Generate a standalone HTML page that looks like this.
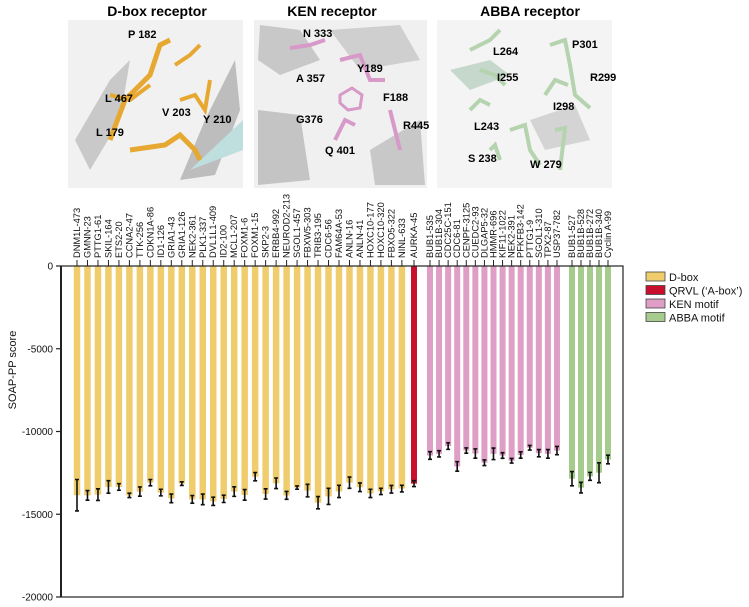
<!DOCTYPE html>
<html><head><meta charset="utf-8"><style>
body{margin:0;background:#fff;font-family:"Liberation Sans",sans-serif;}
svg text{font-family:"Liberation Sans",sans-serif;}
</style></head><body>
<svg id="fig" width="749" height="602" viewBox="0 0 749 602" xmlns="http://www.w3.org/2000/svg">
<!-- structure panels -->
<g>
<text x="157" y="16" text-anchor="middle" font-size="14" font-weight="bold">D-box receptor</text>
<rect x="68" y="20" width="175" height="168" fill="#f1f1f1"/>
<polygon points="75,140 110,80 130,60 120,120 90,170" fill="#c9c9c9"/>
<polygon points="180,180 205,120 235,60 240,110 215,175" fill="#bdbdbd"/>
<polygon points="190,170 243,120 243,150" fill="#bfdede"/>
<polyline points="110,140 125,100 150,75 160,45 170,40" fill="none" stroke="#e6a830" stroke-width="5"/>
<polyline points="110,95 130,100 150,85" fill="none" stroke="#e6a830" stroke-width="4"/>
<polyline points="175,65 190,55 200,45" fill="none" stroke="#e6a830" stroke-width="4"/>
<polyline points="180,100 195,95 205,110 210,80" fill="none" stroke="#e6a830" stroke-width="4"/>
<polyline points="130,150 165,145 180,135 195,150 200,160" fill="none" stroke="#e6a830" stroke-width="5"/>
<text x="128" y="38" font-size="11" font-weight="bold">P 182</text>
<text x="105" y="102" font-size="11" font-weight="bold">L 467</text>
<text x="96" y="136" font-size="11" font-weight="bold">L 179</text>
<text x="162" y="116" font-size="11" font-weight="bold">V 203</text>
<text x="203" y="123" font-size="11" font-weight="bold">Y 210</text>
</g>
<g>
<text x="332" y="16" text-anchor="middle" font-size="14" font-weight="bold">KEN receptor</text>
<rect x="254" y="20" width="173" height="168" fill="#f0f0f0"/>
<polygon points="260,25 300,30 320,60 280,75 258,60" fill="#c8c8c8"/>
<polygon points="330,30 400,25 420,60 360,70" fill="#cfcfcf"/>
<polygon points="258,110 300,115 310,180 258,185" fill="#c4c4c4"/>
<polygon points="370,150 420,120 425,185 375,185" fill="#c8c8c8"/>
<polyline points="290,48 310,45 325,40" fill="none" stroke="#d79ac8" stroke-width="4"/>
<polyline points="340,60 360,55 370,80 385,80" fill="none" stroke="#d79ac8" stroke-width="4"/>
<polygon points="340,95 352,88 362,95 360,108 348,110 340,103" fill="none" stroke="#d79ac8" stroke-width="3"/>
<polyline points="335,140 345,120 355,125" fill="none" stroke="#d79ac8" stroke-width="4"/>
<polyline points="390,110 395,130 400,150" fill="none" stroke="#d79ac8" stroke-width="4"/>
<text x="303" y="37" font-size="11" font-weight="bold">N 333</text>
<text x="357" y="72" font-size="11" font-weight="bold">Y189</text>
<text x="296" y="82" font-size="11" font-weight="bold">A 357</text>
<text x="383" y="101" font-size="11" font-weight="bold">F188</text>
<text x="296" y="123" font-size="11" font-weight="bold">G376</text>
<text x="325" y="154" font-size="11" font-weight="bold">Q 401</text>
<text x="403" y="129" font-size="11" font-weight="bold">R445</text>
</g>
<g>
<text x="530" y="16" text-anchor="middle" font-size="14" font-weight="bold">ABBA receptor</text>
<rect x="437" y="20" width="175" height="168" fill="#f4f4f4"/>
<polygon points="450,70 490,60 510,75 470,90" fill="#c6d8cc"/>
<polygon points="530,120 575,105 590,140 545,150" fill="#d4d4d4"/>
<polyline points="470,50 490,40 500,30" fill="none" stroke="#b5d3ae" stroke-width="4"/>
<polyline points="480,70 495,75 505,85" fill="none" stroke="#b5d3ae" stroke-width="4"/>
<polyline points="470,110 480,100 490,105" fill="none" stroke="#b5d3ae" stroke-width="4"/>
<polyline points="550,45 565,40 570,65 575,95 590,108" fill="none" stroke="#b5d3ae" stroke-width="4"/>
<polyline points="545,95 555,80 568,85" fill="none" stroke="#b5d3ae" stroke-width="4"/>
<polyline points="510,130 525,125 530,150 540,165" fill="none" stroke="#b5d3ae" stroke-width="4"/>
<polyline points="555,130 565,128 560,170" fill="none" stroke="#b5d3ae" stroke-width="4"/>
<polyline points="490,150 495,145 500,160" fill="none" stroke="#b5d3ae" stroke-width="4"/>
<text x="493" y="55" font-size="11" font-weight="bold">L264</text>
<text x="572" y="48" font-size="11" font-weight="bold">P301</text>
<text x="497" y="81" font-size="11" font-weight="bold">I255</text>
<text x="590" y="81" font-size="11" font-weight="bold">R299</text>
<text x="553" y="110" font-size="11" font-weight="bold">I298</text>
<text x="474" y="130" font-size="11" font-weight="bold">L243</text>
<text x="468" y="162" font-size="11" font-weight="bold">S 238</text>
<text x="530" y="168" font-size="11" font-weight="bold">W 279</text>
</g>
<g id="chart"></g>
</svg>
<script>
const dboxLabels=["DNM1L-473","GMNN-23","PTTG1-61","SKIL-164","ETS2-20","CCNA2-47","TTK-256","CDKN1A-86","ID1-126","GRIA1-43","GRIA1-126","NEK2-361","PLK1-337","DVL1L1-409","ID2-100","MCL1-207","FOXM1-6","FOXM1-15","SKP2-3","ERBB4-992","NEUROD2-213","SGOL1-457","FBXW5-303","TRIB3-195","CDC6-56","FAM64A-53","ANLN-16","ANLN-41","HOXC10-177","HOXC10-320","FBXO5-322","NINL-633"];
const dboxValues=[-13850,-13860,-13815,-13350,-13350,-13860,-13630,-13090,-13690,-14040,-13150,-14100,-14100,-14220,-14070,-13630,-13830,-12730,-13770,-13130,-13860,-13390,-13570,-14300,-13920,-13620,-13090,-13370,-13740,-13620,-13490,-13450];
const dboxErrors=[950,290,350,380,200,130,280,190,200,260,110,230,320,250,220,290,320,250,310,320,240,100,380,370,490,370,340,260,250,190,230,200];
const qrvlLabels=["AURKA-45"];
const qrvlValues=[-13150];
const qrvlErrors=[180];
const kenLabels=["BUB1-535","BUB1B-304","CDC25C-151","CDC6-81","CENPF-3125","CUEDC2-93","DLGAP5-32","HMMR-696","KIF11-1022","NEK2-391","PFKFB3-142","PTTG1-9","SGOL1-310","TPX2-87","USP37-782"];
const kenValues=[-11450,-11350,-10880,-12110,-11150,-11330,-11890,-11350,-11450,-11770,-11420,-10980,-11310,-11350,-11150];
const kenErrors=[230,190,200,290,160,280,170,350,170,140,190,140,220,260,250];
const abbaLabels=["BUB1-527","BUB1B-528","BUB1B-272","BUB1B-340","Cyclin A-99"];
const abbaValues=[-12850,-13390,-12710,-12490,-11690];
const abbaErrors=[430,320,240,600,260];
const yTicks=[0,-5000,-10000,-15000,-20000];

const NS="http://www.w3.org/2000/svg";
const g=document.getElementById('chart');
const X0=61,X1=623,Y0=266,Y1=597;
function y(v){return Y0+(0-v)/20000*(Y1-Y0);}
function mk(t,a){const e=document.createElementNS(NS,t);for(const k in a)e.setAttribute(k,a[k]);g.appendChild(e);return e;}
const groups=[
 {labels:dboxLabels,values:dboxValues,errors:dboxErrors,start:77,step:10.48,color:"#f0cd6c",w:6.5,name:"dbox"},
 {labels:qrvlLabels,values:qrvlValues,errors:qrvlErrors,start:414,step:10,color:"#c8102e",w:6,name:"qrvl"},
 {labels:kenLabels,values:kenValues,errors:kenErrors,start:430,step:9.07,color:"#de9ec6",w:6,name:"ken"},
 {labels:abbaLabels,values:abbaValues,errors:abbaErrors,start:572,step:9,color:"#a5cc8c",w:6,name:"abba"}
];
groups.forEach(gr=>{
 gr.labels.forEach((lab,i)=>{
  const cx=gr.start+i*gr.step, v=gr.values[i], e=gr.errors[i];
  const r=mk('rect',{x:cx-gr.w/2,y:Y0,width:gr.w,height:y(v)-Y0,fill:gr.color});
  
  
  const eb=mk('path',{d:`M${cx},${y(v-e)}V${y(v+e)}M${cx-2},${y(v-e)}H${cx+2}M${cx-2},${y(v+e)}H${cx+2}`,stroke:"#111","stroke-width":1.6,fill:"none"});
  
  
  const tk=mk('line',{x1:cx,x2:cx,y1:Y0-6,y2:Y0,stroke:"#222","stroke-width":1});
  
  
  const t=mk('text',{x:0,y:0,transform:`translate(${cx+3},${Y0-8}) rotate(-90)`,"font-size":9.3,fill:"#111"});
  t.textContent=lab;
  
  
 });
});
const fr=mk('rect',{x:X0,y:Y0,width:X1-X0,height:Y1-Y0,fill:"none",stroke:"#222","stroke-width":1.2});


const ax=mk('line',{x1:X0,x2:X0,y1:Y0,y2:Y1,stroke:"#222","stroke-width":2});


yTicks.forEach(v=>{
 const l=mk('line',{x1:X0-5,x2:X0,y1:y(v),y2:y(v),stroke:"#222","stroke-width":1.2});
 
 
 const t=mk('text',{x:X0-8,y:y(v)+3.5,"text-anchor":"end","font-size":10,fill:"#111"});
 t.textContent=String(v);
 
 
});
const yt=mk('text',{x:0,y:0,transform:"translate(16,370) rotate(-90)","text-anchor":"middle","font-size":11,fill:"#111"});
yt.textContent="SOAP-PP score";


const legendLabels=["D-box","QRVL (\u2018A-box\u2019)","KEN motif","ABBA motif"];
const legendColors=["#f0cd6c","#c8102e","#de9ec6","#a5cc8c"];
legendLabels.forEach((lab,i)=>{
 const yy=277+i*13.5;
 const r=mk('rect',{x:646,y:yy-5,width:19,height:9,fill:legendColors[i],stroke:"#444","stroke-width":0.8});
 
 
 const t=mk('text',{x:669,y:yy+4,"font-size":11,fill:"#111"});
 t.textContent=lab;
 
 
});
</script>
</body></html>
